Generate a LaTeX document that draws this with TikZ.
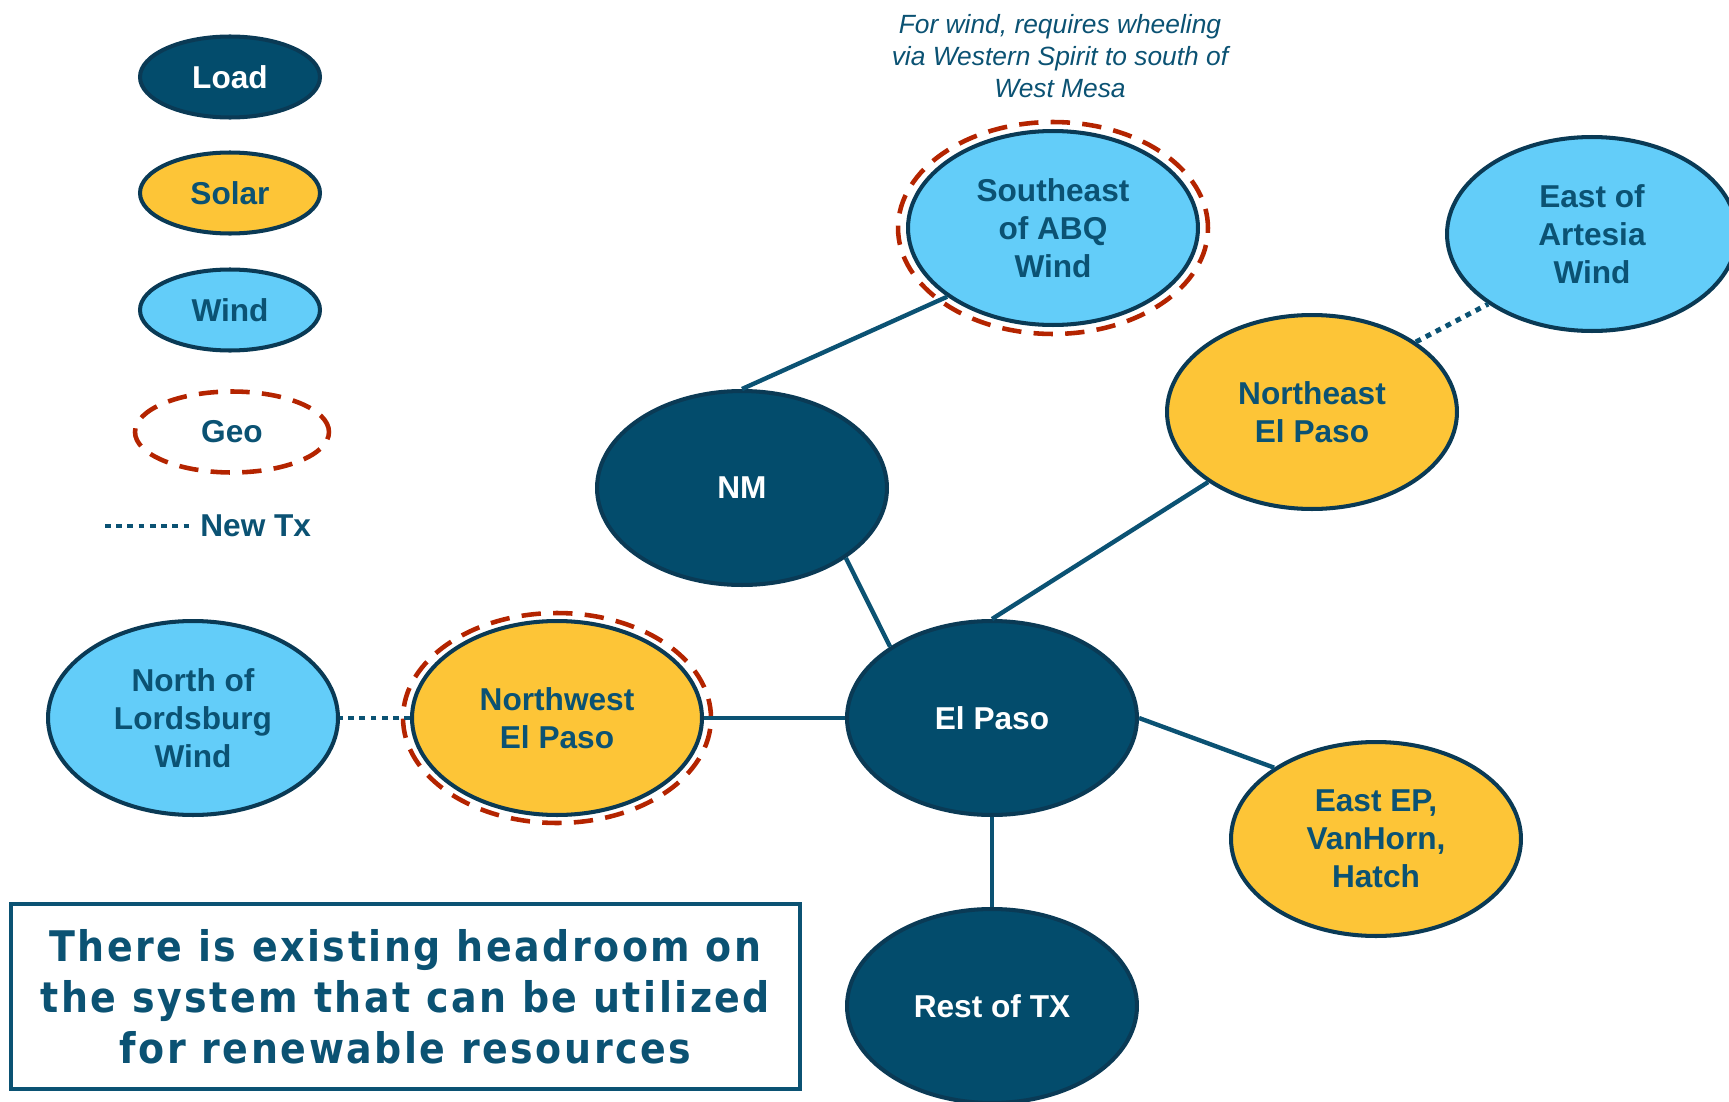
\documentclass[tikz,border=0pt]{standalone}
\usepackage{fontspec}
\setmainfont{Liberation Sans}
\newfontfamily\notefont[LetterSpace=6]{DejaVu Sans Condensed}
\usetikzlibrary{shapes.geometric,positioning}
\definecolor{loadblue}{HTML}{034C6C}
\definecolor{rimblue}{HTML}{0A3A55}
\definecolor{txtblue}{HTML}{0B5273}
\definecolor{solarfill}{HTML}{FDC537}
\definecolor{windfill}{HTML}{63CDF9}
\definecolor{geored}{HTML}{B42400}
\tikzset{
  bus/.style={ellipse, draw=rimblue, line width=2.3pt, minimum width=5.8cm,
    minimum height=3.88cm, inner sep=0pt, align=center, text=txtblue,
    font=\fontsize{18}{21.5}\selectfont\bfseries},
  busload/.style={bus, fill=loadblue, text=white},
  bussolar/.style={bus, fill=solarfill},
  buswind/.style={bus, fill=windfill},
  keysize/.style={minimum width=3.6cm, minimum height=1.62cm},
  link/.style={draw=txtblue, line width=2.5pt},
  newtx/.style={draw=txtblue, line width=2.8pt, dash pattern=on 3.2pt off 3.2pt},
  geo/.style={draw=geored, line width=2.6pt, dash pattern=on 11pt off 7pt},
}

\begin{document}
\begin{tikzpicture}[x=0.02cm, y=-0.02cm]
  \useasboundingbox (0,0) rectangle (1729,1102);
  % legend
  \node[busload, keysize]  (keyload)  at (230,77)  {Load};
  \node[bussolar, keysize] (keysolar) at (230,193) {Solar};
  \node[buswind, keysize]  (keywind)  at (230,310) {Wind};
  \node[geo, ellipse, keysize, minimum width=3.88cm, text=txtblue,
        font=\fontsize{18}{21.5}\selectfont\bfseries] (keygeo) at (232,432) {Geo};
  \coordinate (txa) at (105,526);
  \coordinate (txb) at (193,526);
  \draw[newtx] (txa) -- (txb);
  \node[right=4pt of txb, inner sep=0pt, text=txtblue,
        font=\fontsize{18}{21.5}\selectfont\bfseries] (keytx) {New Tx};
  %
  % buses
  \node[buswind]  (seabq)   at (1053,228) {Southeast\\of ABQ\\Wind};
  \node[buswind]  (artesia) at (1592,234) {East of\\Artesia\\Wind};
  \node[bussolar] (neep)    at (1312,412) {Northeast\\El Paso};
  \node[busload]  (nm)      at (742,488)  {NM};
  \node[busload]  (elpaso)  at (992,718)  {El Paso};
  \node[bussolar] (nwep)    at (557,718)  {Northwest\\El Paso};
  \node[buswind]  (lords)   at (193,718)  {North of\\Lordsburg\\Wind};
  \node[bussolar] (eep)     at (1376,839) {East EP,\\VanHorn,\\Hatch};
  \node[busload]  (resttx)  at (992,1006) {Rest of TX};
  %
  % geo rings
  \draw[geo] (seabq.center) ellipse [x radius=3.1cm, y radius=2.12cm];
  \draw[geo] (nwep.center) ellipse [x radius=3.08cm, y radius=2.1cm];
  %
  % existing lines
  \draw[link] (nm.north) -- (seabq.213);
  \draw[link] (nm.-34) -- (elpaso.145);
  \draw[link] (elpaso.north) -- (neep.214);
  \draw[link] (elpaso.west) -- (nwep.east);
  \draw[link] (elpaso.east) -- (eep.145);
  \draw[link] (elpaso.south) -- (resttx.north);
  % new transmission
  \draw[newtx] (nwep.west) -- (lords.east);
  \draw[newtx] (neep.34) -- (artesia.214);
  %
  \node[text=txtblue, align=center, font=\fontsize{15}{18.4}\selectfont\itshape]
    (wheel) at (1060,56) {For wind, requires wheeling\\via Western Spirit to south of\\West Mesa};
  \node[draw=txtblue, line width=2.3pt, minimum width=15.78cm, minimum height=3.7cm,
        text=txtblue, align=center, font=\notefont\bfseries\fontsize{24}{29}\selectfont]
    (headroom) at (405.5,996.5) {There is existing headroom on\\the system that can be utilized\\for renewable resources};
\end{tikzpicture}
\end{document}
